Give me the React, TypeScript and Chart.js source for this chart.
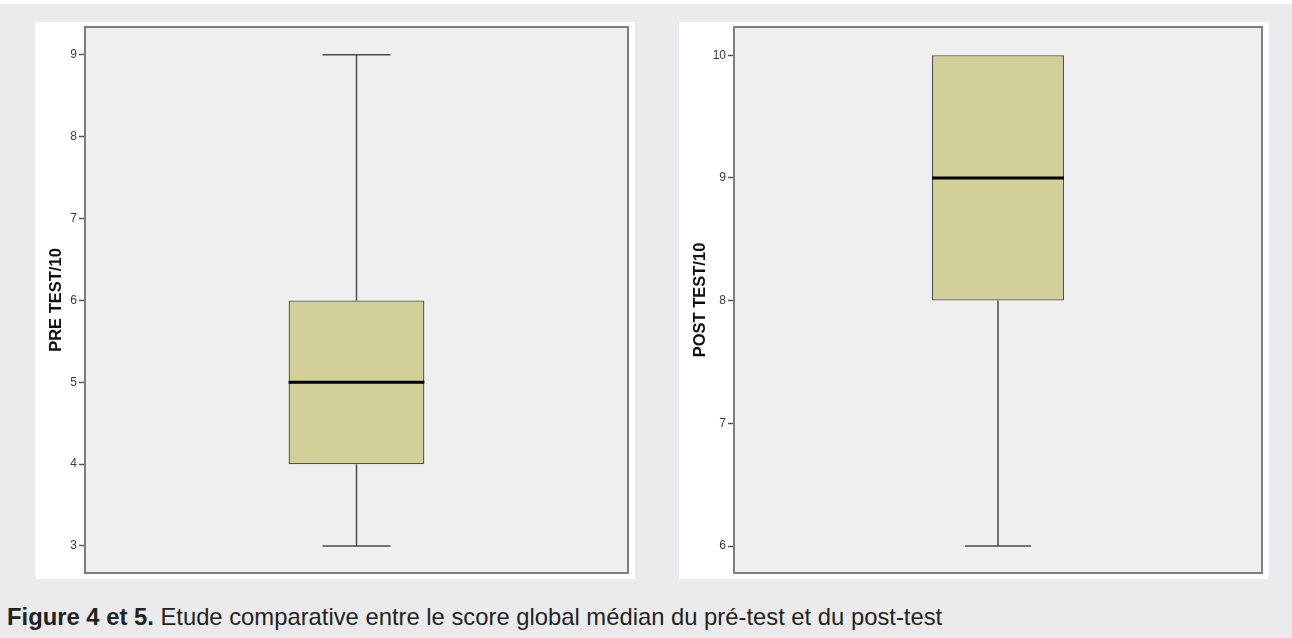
import React, { useEffect, useRef } from "react";
import { Chart, registerables } from "chart.js";

Chart.register(...registerables);

// ---- Data ----
const axisTitles = ["PRE TEST/10", "POST TEST/10"];
const minVals = [3, 6];
const q1Vals = [4, 8];
const medianVals = [5, 9];
const q3Vals = [6, 10];
const maxVals = [9, 10];
const preTicks = [3, 4, 5, 6, 7, 8, 9];
const postTicks = [6, 7, 8, 9, 10];
const preRange = [2.67, 9.34];
const postRange = [5.78, 10.23];
const captionBold = "Figure 4 et 5.";
const captionText = " Etude comparative entre le score global médian du pré-test et du post-test";

const FONT = "'Liberation Sans', Arial, Helvetica, sans-serif";

const boxPlugin = {
  id: "boxplotExtras",
  beforeDraw(chart: any) {
    const { ctx, chartArea } = chart;
    ctx.save();
    ctx.fillStyle = "#ffffff";
    ctx.fillRect(0, 0, chart.width, chart.height);
    ctx.fillStyle = "#efeff0";
    ctx.fillRect(chartArea.left, chartArea.top, chartArea.right - chartArea.left, chartArea.bottom - chartArea.top);
    ctx.restore();
  },
  afterDatasetsDraw(chart: any) {
    const { ctx } = chart;
    const stats = chart.options.plugins.boxplotExtras;
    const meta = chart.getDatasetMeta(0);
    const y = chart.scales.y;
    meta.data.forEach((bar: any) => {
      const { x, width } = bar.getProps(["x", "width"], true);
      const pMin = y.getPixelForValue(stats.min);
      const pQ1 = y.getPixelForValue(stats.q1);
      const pMed = y.getPixelForValue(stats.median);
      const pQ3 = y.getPixelForValue(stats.q3);
      const pMax = y.getPixelForValue(stats.max);
      const cap = width / 2;
      ctx.save();
      ctx.strokeStyle = "#4a4a4a";
      ctx.lineWidth = 1.5;
      ctx.beginPath();
      if (stats.max !== stats.q3) {
        ctx.moveTo(x, pQ3);
        ctx.lineTo(x, pMax);
        ctx.moveTo(x - cap / 2, pMax);
        ctx.lineTo(x + cap / 2, pMax);
      }
      if (stats.min !== stats.q1) {
        ctx.moveTo(x, pQ1);
        ctx.lineTo(x, pMin);
        ctx.moveTo(x - cap / 2, pMin);
        ctx.lineTo(x + cap / 2, pMin);
      }
      ctx.stroke();
      ctx.strokeStyle = "#000000";
      ctx.lineWidth = 3;
      ctx.beginPath();
      ctx.moveTo(x - width / 2, pMed);
      ctx.lineTo(x + width / 2, pMed);
      ctx.stroke();
      ctx.restore();
    });
  },
  afterDraw(chart: any) {
    const { ctx, chartArea } = chart;
    ctx.save();
    ctx.strokeStyle = "#7d7d7d";
    ctx.lineWidth = 2;
    ctx.strokeRect(chartArea.left, chartArea.top, chartArea.right - chartArea.left, chartArea.bottom - chartArea.top);
    ctx.restore();
  },
};

type BoxProps = {
  idx: number;
  ticks: number[];
  range: number[];
  width: number;
  height: number;
  yWidth: number;
};

function BoxChart({ idx, ticks, range, width, height, yWidth }: BoxProps) {
  const ref = useRef<HTMLCanvasElement>(null);
  useEffect(() => {
    if (!ref.current) return;
    const chart = new Chart(ref.current, {
      type: "bar",
      data: {
        labels: [axisTitles[idx]],
        datasets: [
          {
            data: [[q1Vals[idx], q3Vals[idx]]] as any,
            backgroundColor: "#d3cf98",
            borderColor: "#505050",
            borderWidth: 1.3,
            borderSkipped: false,
            barPercentage: 0.25,
            categoryPercentage: 1,
          },
        ],
      },
      options: {
        responsive: false,
        animation: false,
        layout: { padding: { left: 0, top: 5, right: 7, bottom: 6 } },
        plugins: {
          legend: { display: false },
          tooltip: { enabled: false },
          boxplotExtras: {
            min: minVals[idx],
            q1: q1Vals[idx],
            median: medianVals[idx],
            q3: q3Vals[idx],
            max: maxVals[idx],
          },
        } as any,
        scales: {
          x: { display: false },
          y: {
            min: range[0],
            max: range[1],
            afterBuildTicks: (scale: any) => {
              scale.ticks = ticks.map((v) => ({ value: v }));
            },
            afterFit: (scale: any) => {
              scale.width = yWidth;
              scale.paddingTop = 0;
              scale.paddingBottom = 0;
            },
            border: { display: false },
            grid: {
              drawOnChartArea: false,
              drawTicks: true,
              tickLength: 6,
              tickColor: "#555555",
              tickWidth: 1.5,
            },
            ticks: {
              padding: 2,
              color: "#3a3a3a",
              font: { family: FONT, size: 12 },
            },
            title: {
              display: true,
              text: axisTitles[idx],
              color: "#111111",
              font: { family: FONT, size: 16.5, weight: "bold" },
              padding: { top: 12, bottom: 0 },
            },
          },
        },
      },
      plugins: [boxPlugin],
    });
    return () => chart.destroy();
  }, [idx, ticks, range, width, height, yWidth]);
  return <canvas ref={ref} width={width} height={height} style={{ display: "block" }} />;
}

export default function App() {
  return (
    <div
      style={{
        position: "absolute",
        left: 0,
        top: 0,
        width: 1292,
        height: 638,
        background: "#ffffff",
        overflow: "hidden",
      }}
    >
      <div style={{ position: "absolute", left: 0, top: 4, width: 1292, height: 634, background: "#ebebed" }} />
      <div style={{ position: "absolute", left: 35, top: 22 }}>
        <BoxChart idx={0} ticks={preTicks} range={preRange} width={600} height={557} yWidth={50} />
      </div>
      <div style={{ position: "absolute", left: 679, top: 22 }}>
        <BoxChart idx={1} ticks={postTicks} range={postRange} width={590} height={557} yWidth={55} />
      </div>
      <div
        style={{
          position: "absolute",
          left: 7,
          top: 603,
          fontFamily: FONT,
          fontSize: 23.8,
          lineHeight: "27px",
          color: "#222222",
          whiteSpace: "nowrap",
        }}
      >
        <b>{captionBold}</b>
        {captionText}
      </div>
    </div>
  );
}
